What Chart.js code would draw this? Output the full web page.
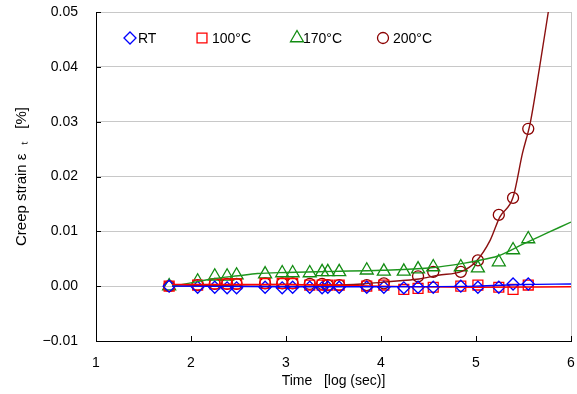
<!DOCTYPE html>
<html>
<head>
<meta charset="utf-8">
<script src="https://cdn.jsdelivr.net/npm/chart.js@4.4.0/dist/chart.umd.min.js"></script>
<style>
  html, body { margin: 0; padding: 0; background: #fff; }
</style>
</head>
<body>
<canvas id="c" width="577" height="394"></canvas>
<script>
// measured times, log10(sec)
const timeLog = [1.77, 2.07, 2.25, 2.38, 2.48, 2.78, 2.96, 3.07, 3.25, 3.38, 3.44, 3.56,
                 3.85, 4.03, 4.24, 4.39, 4.55, 4.84, 5.02, 5.24, 5.39, 5.55];

// creep strain [%] per temperature
const strainRT   = [0, -0.0002, -0.0002, -0.0003, -0.0003, -0.0002, -0.0003, -0.0002, -0.0002, -0.0003, -0.0002,
                    -0.0002, -0.0002, -0.0002, -0.0003, -0.0002, -0.0002, 0.0000, -0.0002, -0.0002, 0.0004, 0.0004];
const strain100  = [0, 0.0002, 0.0004, 0.0004, 0.0004, 0.0005, 0.0005, 0.0005, 0.0002, 0.0002, 0.0002,
                    0.0002, 0.0000, 0.0002, -0.0006, -0.0004, -0.0002, 0.0000, 0.0002, -0.0002, -0.0006, 0.0002];
const strain170  = [0, 0.0009, 0.0018, 0.0018, 0.0020, 0.0022, 0.0024, 0.0024, 0.0024, 0.0026, 0.0026,
                    0.0026, 0.0029, 0.0027, 0.0027, 0.0031, 0.0035, 0.0035, 0.0033, 0.0044, 0.0066, 0.0086];
const strain200  = [0, 0.0002, 0.0004, 0.0004, 0.0004, 0.0005, 0.0005, 0.0005, 0.0004, 0.0004, 0.0002,
                    0.0002, 0.0002, 0.0005, null, 0.0018, 0.0026, 0.0026, 0.0047, 0.0130, 0.0161, 0.0287];

// fitted curves
const fitRtX   = [1.8, 3.0, 4.0, 5.0, 5.5, 6.0];
const fitRtY   = [0.0000, -0.0001, -0.0001, 0.0000, 0.0003, 0.0004];
const fit100X  = [1.8, 2.5, 3.0, 3.5, 4.0, 5.0, 6.0];
const fit100Y  = [0.0003, 0.0003, 0.0003, 0.0002, 0.0000, -0.0002, -0.0001];
const fit170X  = [1.8, 2.0, 2.25, 2.5, 2.7, 3.0, 3.5, 4.0, 4.5, 4.88, 5.0, 5.23, 5.5, 5.75, 6.0];
const fit170Y  = [0.0000, 0.0006, 0.0014, 0.0019, 0.0023, 0.0025, 0.0027, 0.0029, 0.0033, 0.0042, 0.0046,
                  0.0055, 0.0077, 0.0097, 0.0117];
const fit200X  = [1.8, 2.5, 3.0, 3.5, 3.8, 4.0, 4.2, 4.4, 4.6, 4.85, 5.0, 5.15, 5.25, 5.39, 5.49, 5.57, 5.67, 5.77];
const fit200Y  = [0.0000, 0.0002, 0.0003, 0.0002, 0.0004, 0.0007, 0.0010, 0.0013, 0.0020, 0.0027, 0.0045,
                  0.0084, 0.0126, 0.0162, 0.0243, 0.0297, 0.0400, 0.0510];

const xTicks = [1, 2, 3, 4, 5, 6];
const yTicks = [-0.01, 0, 0.01, 0.02, 0.03, 0.04, 0.05];

const pts = (xs, ys) => xs.map((x, i) => ({ x: x, y: ys[i] })).filter(p => p.y !== null);

const FONT = "'Liberation Sans', Arial, sans-serif";
const GRID = '#c8c8c8';

function markers(label, ys, color, style, r) {
  return {
    label: label, data: pts(timeLog, ys), showLine: false, order: 1,
    pointStyle: style, pointRadius: r, pointHoverRadius: r,
    pointBorderColor: color, pointBackgroundColor: 'rgba(0,0,0,0)', pointBorderWidth: 1.3
  };
}
function fit(xs, ys, color) {
  return {
    label: 'fit', data: pts(xs, ys), showLine: true, order: 0, pointRadius: 0,
    borderColor: color, borderWidth: 1.4, cubicInterpolationMode: 'monotone', fit: true
  };
}
function noPad(s) {
  s.paddingTop = s.paddingBottom = s.paddingLeft = s.paddingRight = 0;
}

// inward ticks + legend inside the plot
const extras = {
  id: 'extras',
  afterDraw(chart) {
    const { ctx, chartArea: a, scales: { x, y } } = chart;
    ctx.save();
    ctx.strokeStyle = '#000';
    ctx.lineWidth = 1;
    ctx.beginPath();
    yTicks.forEach(v => { const py = Math.round(y.getPixelForValue(v)) + 0.5; ctx.moveTo(a.left, py); ctx.lineTo(a.left + 5, py); });
    xTicks.forEach(v => { const px = Math.round(x.getPixelForValue(v)) + 0.5; ctx.moveTo(px, a.bottom); ctx.lineTo(px, a.bottom - 5); });
    ctx.stroke();

    const items = [[130, 138], [202, 212], [297, 303], [383, 393]];
    const ds = chart.data.datasets.filter(d => !d.fit);
    ctx.font = '14px ' + FONT;
    ctx.textBaseline = 'middle';
    ds.forEach((d, i) => {
      ctx.strokeStyle = d.pointBorderColor;
      ctx.fillStyle = 'rgba(0,0,0,0)';
      ctx.lineWidth = 1.3;
      Chart.helpers.drawPoint(ctx, { pointStyle: d.pointStyle, radius: d.pointRadius, borderWidth: 1.3 }, items[i][0], 38);
      ctx.fillStyle = '#000';
      ctx.fillText(d.label, items[i][1], 39);
    });
    ctx.restore();
  }
};

new Chart(document.getElementById('c'), {
  type: 'scatter',
  data: {
    datasets: [
      markers('RT', strainRT, '#0000ff', 'rectRot', 6),
      markers('100°C', strain100, '#ff0000', 'rect', 7),
      markers('170°C', strain170, '#128c12', 'triangle', 7.5),
      markers('200°C', strain200, '#8b0000', 'circle', 5.5),
      fit(fitRtX, fitRtY, '#0000ff'),
      fit(fit100X, fit100Y, '#ff0000'),
      fit(fit170X, fit170Y, '#1e961e'),
      fit(fit200X, fit200Y, '#8b1010')
    ]
  },
  options: {
    responsive: false,
    animation: false,
    layout: { autoPadding: false, padding: { top: 12, right: 6, left: 0, bottom: 0 } },
    plugins: { legend: { display: false }, tooltip: { enabled: false } },
    scales: {
      x: {
        type: 'linear', min: 1, max: 6,
        afterFit: s => { s.height = 53; noPad(s); },
        afterBuildTicks: s => { s.ticks = xTicks.map(v => ({ value: v })); },
        grid: { drawTicks: false, color: c => (c.tick && c.tick.value === 6) ? GRID : 'rgba(0,0,0,0)' },
        border: { color: '#000', width: 1 },
        ticks: { padding: 14, color: '#000', font: { size: 14, family: FONT }, maxRotation: 0 },
        title: { display: true, text: 'Time   [log (sec)]', color: '#000', font: { size: 14, family: FONT }, padding: { top: 0, bottom: 4 } }
      },
      y: {
        type: 'linear', min: -0.01, max: 0.05,
        afterFit: s => { s.width = 96; noPad(s); },
        afterBuildTicks: s => { s.ticks = yTicks.map(v => ({ value: v })); },
        grid: { drawTicks: false, color: c => (c.tick && c.tick.value === -0.01) ? 'rgba(0,0,0,0)' : GRID },
        border: { color: '#000', width: 1 },
        ticks: {
          padding: 18, color: '#000', font: { size: 14, family: FONT },
          callback: v => (v < 0 ? '\u2212' : '') + Math.abs(v).toFixed(2)
        },
        title: { display: true, text: 'Creep strain ε  ₜ   [%]', color: '#000', font: { size: 15, family: FONT }, padding: { top: 13, bottom: 0 } }
      }
    }
  },
  plugins: [extras]
});
</script>
</body>
</html>
